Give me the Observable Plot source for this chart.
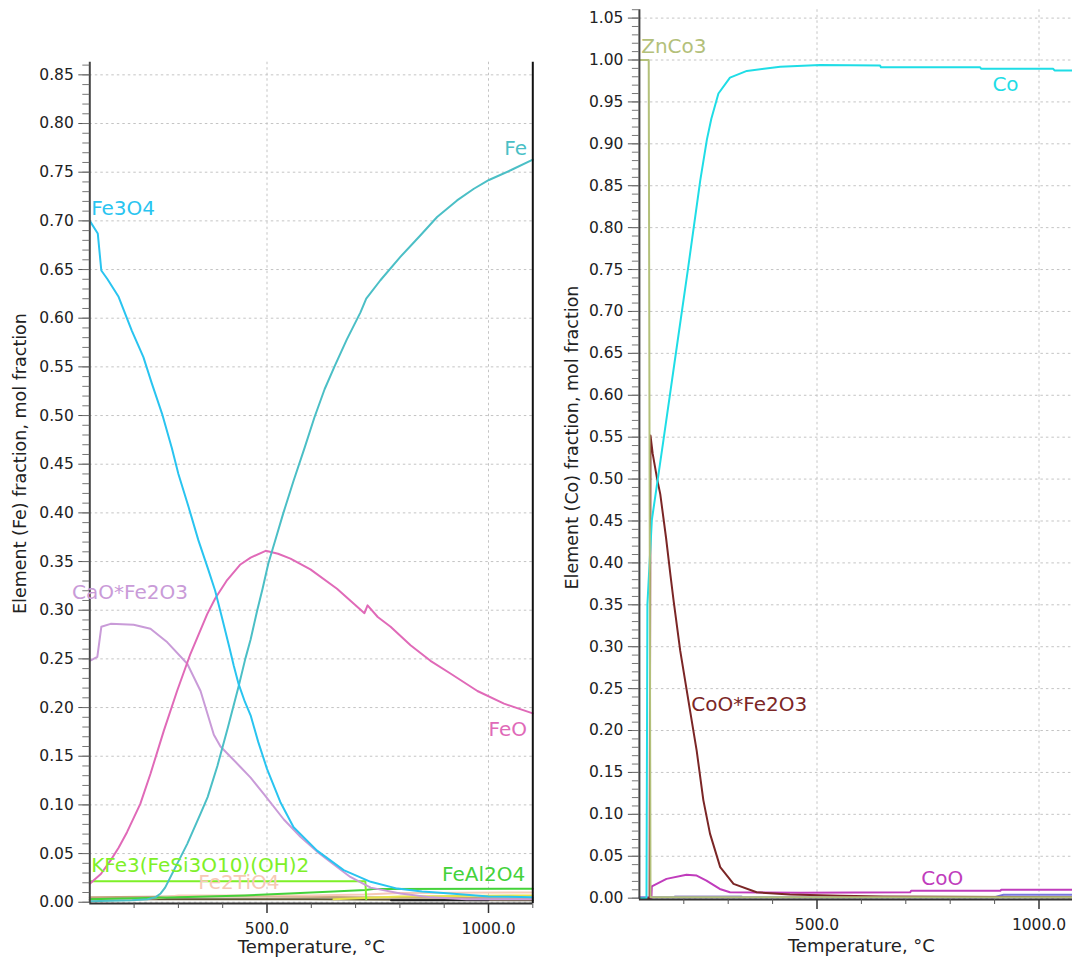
<!DOCTYPE html>
<html><head><meta charset="utf-8">
<script src="https://cdn.jsdelivr.net/npm/d3@7"></script>
<script src="https://cdn.jsdelivr.net/npm/@observablehq/plot@0.6"></script>
<style>
html,body{margin:0;padding:0;background:#fff;overflow:hidden;width:1072px;height:960px;}
#left{position:absolute;left:0;top:0;width:545px;height:960px;}
#right{position:absolute;left:545px;top:0;width:555px;height:960px;}
svg{font-family:"DejaVu Sans",sans-serif;max-width:none !important;}
</style></head><body>
<div id="left"></div><div id="right"></div>
<script>
// ---------- axis ticks ----------
const X_MAJOR = [500, 1000];
const X_MINOR = [200, 300, 400, 600, 700, 800, 900, 1100];
const Y_MAJOR_FE = d3.range(0, 18).map(i => i * 0.05);          // 0.00 .. 0.85
const Y_MINOR_FE = d3.range(0, 87).map(i => i * 0.01);
const Y_MAJOR_CO = d3.range(0, 22).map(i => i * 0.05);          // 0.00 .. 1.05
const Y_MINOR_CO = d3.range(0, 107).map(i => i * 0.01);

// ---------- left panel: Element (Fe) ----------
const FE3O4 = [[100,0.700],[118,0.687],[126,0.649],[140,0.640],[165,0.622],[195,0.587],[221,0.560],[240,0.533],[263,0.502],[285,0.467],[300,0.440],[323,0.406],[345,0.372],[368,0.341],[383,0.320],[398,0.293],[415,0.262],[425,0.243],[436,0.224],[450,0.206],[463,0.192],[480,0.165],[500,0.137],[530,0.103],[560,0.077],[613,0.053],[673,0.033],[734,0.021],[794,0.014],[850,0.011],[914,0.009],[1000,0.006],[1100,0.005]];
const FE = [[100,0.001],[195,0.002],[230,0.003],[248,0.005],[260,0.009],[270,0.015],[290,0.033],[320,0.060],[350,0.091],[366,0.108],[388,0.140],[412,0.180],[436,0.222],[451,0.250],[463,0.270],[478,0.300],[490,0.322],[503,0.348],[520,0.374],[537,0.400],[560,0.433],[585,0.467],[607,0.498],[630,0.527],[652,0.550],[680,0.578],[711,0.606],[724,0.620],[756,0.639],[801,0.663],[846,0.685],[884,0.704],[929,0.721],[967,0.733],[1001,0.742],[1050,0.752],[1100,0.763]];
const FEO = [[100,0.019],[125,0.029],[147,0.043],[165,0.056],[184,0.072],[214,0.101],[237,0.132],[267,0.176],[297,0.217],[327,0.255],[365,0.296],[383,0.312],[410,0.331],[440,0.347],[463,0.354],[497,0.361],[525,0.358],[553,0.353],[598,0.342],[658,0.322],[715,0.299],[720,0.297],[727,0.305],[750,0.293],[779,0.283],[824,0.264],[869,0.248],[914,0.235],[975,0.217],[1035,0.204],[1100,0.194]];
const CAO_FE2O3 = [[100,0.248],[117,0.252],[126,0.283],[147,0.286],[199,0.285],[237,0.281],[275,0.267],[320,0.245],[350,0.217],[380,0.172],[395,0.160],[440,0.139],[463,0.128],[493,0.111],[538,0.085],[576,0.067],[613,0.052],[650,0.039],[688,0.026],[734,0.015],[801,0.009],[871,0.005],[950,0.003],[1100,0.003]];
const KFE3 = [[100,0.0215],[722,0.0215],[724,0.003]];
const FEAL2O4 = [[100,0.003],[300,0.005],[450,0.007],[550,0.009],[650,0.011],[722,0.0125],[740,0.0135],[1100,0.0138]];
const FE2TIO4 = [[100,0.002],[250,0.004],[300,0.007],[600,0.007],[720,0.008],[800,0.0095],[1100,0.010]];
const FE_MINOR_TAN = [[100,0.005],[300,0.006],[500,0.006],[700,0.005],[1100,0.004]];
const FE_MINOR_DARK = [[100,0.003],[600,0.003],[1100,0.002]];
const FE_MINOR_YELLOW = [[650,0.003],[800,0.006],[1100,0.007]];
const FE_MINOR_BLACK = [[780,0.002],[1000,0.002]];

// ---------- right panel: Element (Co) ----------
const ZNCO3 = [[100,1.0],[121,1.0],[123,0.5],[125,0.001],[1100,0.001]];
const CO = [[100,0],[116,0],[118,0.35],[128,0.451],[154,0.546],[184,0.657],[210,0.753],[237,0.856],[252,0.905],[262,0.930],[278,0.960],[304,0.979],[342,0.987],[417,0.992],[507,0.994],[642,0.9934],[644,0.9914],[867,0.9914],[870,0.9895],[1032,0.9895],[1035,0.9875],[1100,0.9875]];
const COO_FE2O3 = [[100,0],[123,0],[125,0.552],[130,0.53],[140,0.50],[147,0.482],[160,0.43],[170,0.385],[177,0.355],[192,0.295],[214,0.224],[229,0.176],[244,0.117],[259,0.077],[282,0.037],[312,0.017],[364,0.007],[439,0.0044],[552,0.003],[650,0.002],[1100,0.001]];
const COO = [[100,0],[127,0],[128,0.014],[161,0.023],[206,0.028],[229,0.027],[251,0.021],[281,0.011],[304,0.007],[462,0.0065],[710,0.007],[712,0.0089],[913,0.0089],[915,0.010],[1100,0.010]];
const CO_MINOR_VIOLET = [[100,0.001],[900,0.001],[920,0.004],[1100,0.004]];
const CO_MINOR_LILAC = [[180,0.002],[330,0.002]];
const CO_MINOR_RED = [[100,0],[125,0]];

// ---------- series styling ----------
const leftSeries = [
  {data: FE_MINOR_DARK, color: "#5e5634"},
  {data: FE_MINOR_TAN, color: "#c4a27c"},
  {data: FE_MINOR_YELLOW, color: "#e6e24a"},
  {data: FE_MINOR_BLACK, color: "#222222"},
  {data: FE2TIO4, color: "#f7c9b6"},
  {data: FEAL2O4, color: "#44d23a"},
  {data: KFE3, color: "#7ef028"},
  {data: CAO_FE2O3, color: "#c99bd8"},
  {data: FEO, color: "#e06ab8"},
  {data: FE, color: "#4bbfc6"},
  {data: FE3O4, color: "#29c4f0"}
];
const leftLabels = [
  {t: "Fe3O4", x: 103, y: 0.7127, c: "#29c4f0", a: "start"},
  {t: "Fe", x: 1087, y: 0.7743, c: "#4bbfc6", a: "end"},
  {t: "CaO*Fe2O3", x: 60, y: 0.318, c: "#c99bd8", a: "start"},
  {t: "FeO", x: 1087, y: 0.1774, c: "#e06ab8", a: "end"},
  {t: "KFe3(FeSi3O10)(OH)2", x: 103, y: 0.0377, c: "#7ef028", a: "start"},
  {t: "Fe2TiO4", x: 345, y: 0.0202, c: "#f7c9b6", a: "start"},
  {t: "FeAl2O4", x: 1083, y: 0.0285, c: "#44d23a", a: "end"}
];
const rightSeries = [
  {data: CO_MINOR_LILAC, color: "#9a8cc8"},
  {data: CO_MINOR_VIOLET, color: "#7777dd"},
  {data: CO_MINOR_RED, color: "#e02020"},
  {data: COO, color: "#c03cbc"},
  {data: COO_FE2O3, color: "#7b2626"},
  {data: CO, color: "#1fdde6"},
  {data: ZNCO3, color: "#b3c07a"}
];
const rightLabels = [
  {t: "ZnCo3", x: 104, y: 1.0161, c: "#b3c07a", a: "start"},
  {t: "Co", x: 895, y: 0.9708, c: "#1fdde6", a: "start"},
  {t: "CoO*Fe2O3", x: 217, y: 0.2311, c: "#7b2626", a: "start"},
  {t: "CoO", x: 735, y: 0.0235, c: "#c03cbc", a: "start"}
];

function panel(o) {
  const grid = {stroke: "#c4c4c4", strokeOpacity: 1, strokeDasharray: "2.5,3", strokeWidth: 1};
  const labelOpts = a => ({x: "x", y: "y", text: "t", fill: "c", textAnchor: a, fontSize: 20});
  return Plot.plot({
    width: o.width, height: 960,
    marginLeft: o.ml, marginRight: o.mr, marginTop: o.mt, marginBottom: o.mb,
    x: {domain: [100, 1100]},
    y: {domain: o.yDomain},
    style: {fontFamily: "DejaVu Sans, sans-serif", color: "#222", background: "transparent", overflow: "visible"},
    marks: [
      Plot.gridY(o.yMajor, grid),
      Plot.gridX(X_MAJOR, grid),
      ...o.series.map(s => Plot.line(s.data, {x: d => d[0], y: d => d[1], stroke: s.color, strokeWidth: 2})),
      Plot.ruleX([100], {stroke: "#444", strokeWidth: 2}),
      Plot.ruleX([1100], {stroke: "#111", strokeWidth: 2}),
      Plot.ruleY([o.yDomain[0]], {stroke: "#333", strokeWidth: 2}),
      Plot.axisY(o.yMajor, {tickSize: 11, tickPadding: 5, tickFormat: d => d.toFixed(2), fontSize: 15.5, label: null, stroke: "#555", fill: "#222"}),
      Plot.axisY(o.yMinor, {tickSize: 7, tickFormat: () => "", label: null, stroke: "#777"}),
      Plot.axisX(X_MAJOR, {tickSize: 10, tickPadding: 9, tickFormat: d => d.toFixed(1), fontSize: 15.5, label: null, stroke: "#333", fill: "#222", strokeWidth: 1.5}),
      Plot.axisX(X_MINOR, {tickSize: 5, tickFormat: () => "", label: null, stroke: "#555"}),
      Plot.text(o.labels.filter(l => l.a === "start"), labelOpts("start")),
      Plot.text(o.labels.filter(l => l.a === "end"), labelOpts("end")),
      Plot.text([{t: o.yTitle, v: o.yTitleV}], {frameAnchor: "left", y: "v", text: "t", rotate: -90, textAnchor: "middle", lineAnchor: "middle", dx: o.yTitleDx, fontSize: 17.5, fill: "#222"}),
      Plot.text([{t: "Temperature, °C"}], {frameAnchor: "bottom", text: "t", textAnchor: "middle", lineAnchor: "middle", dy: o.xTitleDy, fontSize: 18, fill: "#222"})
    ]
  });
}

document.getElementById("left").append(panel({
  width: 545, ml: 89.3, mr: 12.7, mt: 61.7, mb: 57,
  yDomain: [-0.0013, 0.863], yMajor: Y_MAJOR_FE, yMinor: Y_MINOR_FE,
  series: leftSeries, labels: leftLabels,
  yTitle: "Element (Fe) fraction, mol fraction", yTitleV: 0.4507, yTitleDx: -69.3, xTitleDy: 44
}));
document.getElementById("right").append(panel({
  width: 555, ml: 93.9, mr: 17.1, mt: 9.3, mb: 61,
  yDomain: [-0.0016, 1.0599], yMajor: Y_MAJOR_CO, yMinor: Y_MINOR_CO,
  series: rightSeries, labels: rightLabels,
  yTitle: "Element (Co) fraction, mol fraction", yTitleV: 0.5496, yTitleDx: -66.9, xTitleDy: 47
}));
</script>
</body></html>
